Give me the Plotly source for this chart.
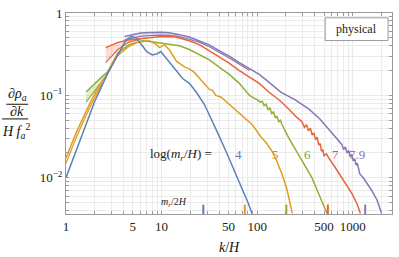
import numpy as np
import plotly.graph_objects as go

# ---------------- data ----------------
blue_k = [1, 1.3, 1.6, 2.0, 2.7, 3.5, 4.2, 4.8, 5.4, 6.0, 7.0, 8.0, 9.0, 9.8, 11, 13, 16.6, 19.5, 23, 28, 34, 40, 48, 55, 62, 70, 80, 89]
blue_v = [0.010, 0.022, 0.042, 0.085, 0.18, 0.32, 0.46, 0.52, 0.50, 0.43, 0.34, 0.31, 0.32, 0.34, 0.29, 0.23, 0.16, 0.14, 0.11, 0.078, 0.049, 0.032, 0.020, 0.014, 0.010, 0.0074, 0.0050, 0.0036]

orange_k = [1, 1.3, 1.6, 2.0, 2.4, 2.7, 3.3, 4.5, 5.6, 7.5, 8.7, 9.5, 10.7, 12, 14.3, 16, 17.5, 19.5, 22, 25, 28, 31.6, 34, 37, 42, 47, 53, 60, 76, 89, 110, 123, 143, 160, 182, 205, 233]
orange_v = [0.0175, 0.037, 0.062, 0.105, 0.15, 0.18, 0.29, 0.39, 0.44, 0.46, 0.42, 0.38, 0.41, 0.36, 0.26, 0.24, 0.22, 0.21, 0.19, 0.16, 0.14, 0.118, 0.115, 0.10, 0.095, 0.085, 0.074, 0.066, 0.052, 0.044, 0.031, 0.027, 0.021, 0.016, 0.011, 0.0072, 0.0037]
orange_band_k = [1, 1.3, 1.6, 2.0, 2.4]
orange_band_hi = [0.0175, 0.037, 0.062, 0.105, 0.15]
orange_band_lo = [0.0150, 0.032, 0.055, 0.095, 0.14]

green_k = [1.62, 2.0, 2.4, 2.7, 3.5, 4.5, 6.3, 7.5, 10, 12, 15.4, 19.5, 25, 31.6, 40, 51, 65, 83, 100, 108, 113, 118, 124, 130, 136, 142, 148, 155, 161, 168, 175, 182, 215, 255, 310, 374, 440, 536]
green_v = [0.11, 0.14, 0.17, 0.19, 0.33, 0.41, 0.46, 0.45, 0.43, 0.42, 0.40, 0.36, 0.31, 0.27, 0.22, 0.18, 0.14, 0.10, 0.088, 0.083, 0.085, 0.075, 0.078, 0.067, 0.070, 0.060, 0.063, 0.053, 0.056, 0.048, 0.050, 0.044, 0.030, 0.021, 0.0145, 0.010, 0.0064, 0.0037]
green_band_k = [1.62, 2.0, 2.4, 2.7]
green_band_hi = [0.11, 0.14, 0.17, 0.19]
green_band_lo = [0.083, 0.115, 0.15, 0.18]

red_k = [2.6, 3.0, 3.5, 4.5, 6.0, 8, 10, 14, 19.5, 25, 37, 50, 65, 85, 105, 133, 170, 215, 260, 294, 312, 328, 344, 360, 376, 392, 408, 424, 440, 456, 470, 485, 500, 530, 562, 650, 768, 870, 980, 1100, 1200]
red_v = [0.38, 0.41, 0.44, 0.47, 0.49, 0.51, 0.52, 0.51, 0.46, 0.41, 0.31, 0.25, 0.20, 0.165, 0.14, 0.109, 0.088, 0.068, 0.054, 0.048, 0.041, 0.044, 0.037, 0.040, 0.033, 0.035, 0.029, 0.031, 0.025, 0.026, 0.021, 0.022, 0.0185, 0.0195, 0.0173, 0.0135, 0.010, 0.0082, 0.0064, 0.0049, 0.0037]
red_band_k = [2.6, 3.0, 3.5, 4.5, 6.0]
red_band_hi = [0.38, 0.41, 0.44, 0.47, 0.49]
red_band_lo = [0.25, 0.30, 0.36, 0.44, 0.48]

purple_k = [4.1, 5, 6, 7.5, 10, 12, 15, 19.5, 25, 31.6, 40, 51, 65, 83, 105, 123, 178, 250, 348, 450, 562, 660, 768, 800, 835, 870, 905, 940, 975, 1010, 1045, 1080, 1115, 1150, 1180, 1303, 1578, 1800, 2000]
purple_v = [0.52, 0.55, 0.57, 0.58, 0.585, 0.575, 0.55, 0.51, 0.46, 0.41, 0.35, 0.30, 0.25, 0.21, 0.18, 0.155, 0.109, 0.088, 0.068, 0.052, 0.039, 0.031, 0.0254, 0.0220, 0.0236, 0.0200, 0.0214, 0.0180, 0.0192, 0.0160, 0.0170, 0.0142, 0.0150, 0.0128, 0.0112, 0.0098, 0.0070, 0.0053, 0.0037]
purple_band_k = [4.1, 5, 6, 7.5, 10, 12, 15, 19.5, 25, 31.6, 40, 51, 65, 83]
purple_band_hi = [0.52, 0.55, 0.57, 0.58, 0.585, 0.575, 0.55, 0.51, 0.46, 0.41, 0.35, 0.30, 0.25, 0.21]
purple_band_lo = [0.47, 0.50, 0.52, 0.53, 0.54, 0.535, 0.52, 0.48, 0.44, 0.39, 0.335, 0.285, 0.238, 0.20]

log_mr_labels = ["4", "5", "6", "7", "7.9"]
mr_half_k = [27.3, 74.2, 201.7, 548.3, 1348.0]

x_labels = {1: "1", 5: "5", 10: "10", 50: "50", 100: "100", 500: "500", 1000: "1000"}
y_labels = {1: "1", 0.1: "10<sup>\u22121</sup>", 0.01: "10<sup>\u22122</sup>"}

# ---------------- styling ----------------
C_BLUE = "#5E81B5"
C_ORANGE = "#E19C24"
C_GREEN = "#8FB032"
C_RED = "#EB6235"
C_PURPLE = "#8778B3"
SERIF = "Liberation Serif"

def rgba(hexc, a):
    h = hexc.lstrip("#")
    return "rgba(%d,%d,%d,%.2f)" % (int(h[0:2], 16), int(h[2:4], 16), int(h[4:6], 16), a)

fig = go.Figure()

def add_band(kb, hi, lo, color):
    fig.add_trace(go.Scatter(x=list(kb) + list(kb)[::-1], y=list(hi) + list(lo)[::-1],
                             fill="toself", fillcolor=rgba(color, 0.22),
                             line=dict(width=0), mode="lines", hoverinfo="skip", showlegend=False))
    fig.add_trace(go.Scatter(x=kb, y=lo, mode="lines", line=dict(color=color, width=1.2),
                             showlegend=False))

def add_line(k, v, color, w=1.5):
    fig.add_trace(go.Scatter(x=k, y=v, mode="lines", line=dict(color=color, width=w),
                             showlegend=False))

add_band(purple_band_k, purple_band_hi, purple_band_lo, C_PURPLE)
add_band(red_band_k, red_band_hi, red_band_lo, C_RED)
add_band(green_band_k, green_band_hi, green_band_lo, C_GREEN)
add_band(orange_band_k, orange_band_hi, orange_band_lo, C_ORANGE)

add_line(purple_k, purple_v, C_PURPLE)
add_line(red_k, red_v, C_RED)
add_line(green_k, green_v, C_GREEN)
add_line(orange_k, orange_v, C_ORANGE)
add_line(blue_k, blue_v, C_BLUE)

# tick positions (log decades with minor subdivisions)
x_tickvals = [m * 10 ** d for d in range(0, 4) for m in range(1, 10) if m * 10 ** d <= 2500]
x_ticktext = [x_labels.get(v, "") for v in x_tickvals]
y_tickvals = [m * 10.0 ** d for d in range(-3, 1) for m in range(1, 10) if 0.0036 <= m * 10.0 ** d <= 1]
y_ticktext = [y_labels.get(round(v, 6), "") for v in y_tickvals]

axis_common = dict(showline=True, linecolor="#9a9a9a", linewidth=1, mirror="allticks",
                   ticks="inside", ticklen=3, tickcolor="#9a9a9a",
                   showgrid=True, gridcolor="#ebebeb", gridwidth=1, zeroline=False,
                   tickfont=dict(family=SERIF, size=13, color="#222"))

fig.update_xaxes(type="log", range=[0, 3.41], tickmode="array", tickvals=x_tickvals,
                 ticktext=x_ticktext, **axis_common)
fig.update_yaxes(type="log", range=[-2.44, 0], tickmode="array", tickvals=y_tickvals,
                 ticktext=y_ticktext, **axis_common)

annotations = []
shapes = []

def note(x, y, text, font, xanchor="center"):
    annotations.append(dict(x=x, y=y, xref="paper", yref="paper", showarrow=False,
                            xanchor=xanchor, yanchor="middle", text=text, font=font))

# y-axis label as a stacked fraction
lab_font = dict(family=SERIF, size=14, color="#111")
note(-0.150, 0.596, "\u2202<i>\u03c1</i><sub><i>a</i></sub>", lab_font)
note(-0.150, 0.512, "\u2202<i>k</i>", lab_font)
note(-0.153, 0.412, "<i>H f</i><sub><i>a</i></sub><sup>2</sup>", lab_font)
shapes.append(dict(type="line", xref="paper", yref="paper", x0=-0.183, x1=-0.116, y0=0.546, y1=0.546,
                   line=dict(color="#111", width=1)))
shapes.append(dict(type="line", xref="paper", yref="paper", x0=-0.196, x1=-0.116, y0=0.473, y1=0.473,
                   line=dict(color="#111", width=1)))

# x-axis title
note(0.50, -0.166, "<i>k</i>/<i>H</i>", lab_font)

# log(m_r/H) labels
note(0.352, 0.298, "log(<i>m</i><sub><i>r</i></sub>/<i>H</i>) =",
     dict(family=SERIF, size=13, color="#222"))
label_x = [0.529, 0.642, 0.740, 0.826, 0.893]
label_colors = [C_BLUE, "#C98E2E", "#7E9E33", "#D2603A", C_PURPLE]
for txt, lx, col in zip(log_mr_labels, label_x, label_colors):
    note(lx, 0.298, txt, dict(family=SERIF, size=13, color=col))

# m_r/2H markers
note(0.330, 0.056, "<i>m</i><sub><i>r</i></sub>/2<i>H</i>", dict(family=SERIF, size=10, color="#222"))
for kk, col in zip(mr_half_k, [C_BLUE, C_ORANGE, C_GREEN, C_RED, C_PURPLE]):
    shapes.append(dict(type="line", xref="x", yref="paper", x0=kk, x1=kk,
                       y0=0.0, y1=0.047, line=dict(color=col, width=2)))

# "physical" box
shapes.append(dict(type="rect", xref="paper", yref="paper", x0=0.795, x1=0.988, y0=0.863, y1=0.976,
                   line=dict(color="#9a9a9a", width=1), fillcolor="white", layer="above"))
note(0.891, 0.920, "physical", dict(family=SERIF, size=12, color="#222"))

fig.update_layout(width=399, height=257, autosize=False,
                  margin=dict(l=66, r=6, t=9, b=43),
                  paper_bgcolor="white", plot_bgcolor="white",
                  annotations=annotations, shapes=shapes, showlegend=False)

fig.write_html("out.html", config={"displayModeBar": False},
               post_script="document.body.style.margin='0';")
